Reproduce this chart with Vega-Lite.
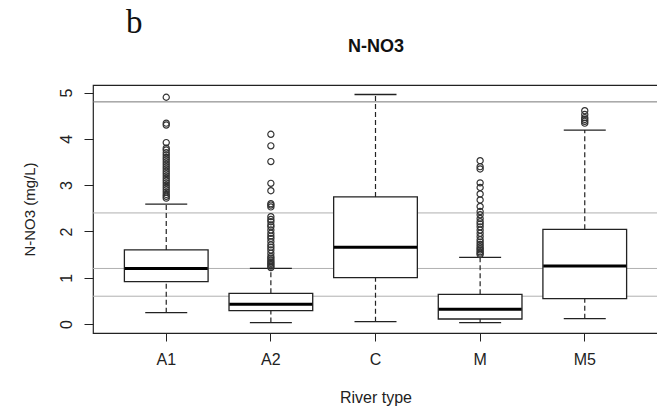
{
  "$schema": "https://vega.github.io/schema/vega-lite/v6.json",
  "autosize": "none",
  "width": 565,
  "height": 248,
  "padding": {"left": 93, "top": 85, "right": 0, "bottom": 76},
  "background": "white",
  "config": {
    "view": {"stroke": "#222", "strokeWidth": 1.2},
    "font": "Liberation Sans",
    "title": {"font": "Liberation Serif", "fontSize": 33, "fontWeight": "normal", "color": "#111"}
  },
  "title": {"text": "b", "anchor": "start", "frame": "group", "dx": 33, "offset": -3},
  "datasets": {
    "boxes": [
      {"river": "A1", "lw": 0.245, "q1": 0.915, "med": 1.2, "q3": 1.6, "uw": 2.59},
      {"river": "A2", "lw": 0.03, "q1": 0.288, "med": 0.425, "q3": 0.663, "uw": 1.2},
      {"river": "C", "lw": 0.05, "q1": 1.0, "med": 1.657, "q3": 2.745, "uw": 4.96},
      {"river": "M", "lw": 0.03, "q1": 0.108, "med": 0.317, "q3": 0.64, "uw": 1.44},
      {"river": "M5", "lw": 0.115, "q1": 0.548, "med": 1.254, "q3": 2.046, "uw": 4.19}
    ],
    "refs": [{"v": 4.8}, {"v": 2.4}, {"v": 1.2}, {"v": 0.6}],
    "outliers": [
      {"river": "A1", "v": 2.72}, {"river": "A1", "v": 2.76}, {"river": "A1", "v": 2.8}, {"river": "A1", "v": 2.85},
      {"river": "A1", "v": 2.9}, {"river": "A1", "v": 2.95}, {"river": "A1", "v": 3.0}, {"river": "A1", "v": 3.05},
      {"river": "A1", "v": 3.1}, {"river": "A1", "v": 3.15}, {"river": "A1", "v": 3.2}, {"river": "A1", "v": 3.25},
      {"river": "A1", "v": 3.3}, {"river": "A1", "v": 3.35}, {"river": "A1", "v": 3.4}, {"river": "A1", "v": 3.45},
      {"river": "A1", "v": 3.5}, {"river": "A1", "v": 3.55}, {"river": "A1", "v": 3.6}, {"river": "A1", "v": 3.65},
      {"river": "A1", "v": 3.7}, {"river": "A1", "v": 3.76}, {"river": "A1", "v": 3.8}, {"river": "A1", "v": 3.92},
      {"river": "A1", "v": 4.3}, {"river": "A1", "v": 4.34}, {"river": "A1", "v": 4.9},
      {"river": "A2", "v": 1.22}, {"river": "A2", "v": 1.25}, {"river": "A2", "v": 1.28}, {"river": "A2", "v": 1.31},
      {"river": "A2", "v": 1.34}, {"river": "A2", "v": 1.38}, {"river": "A2", "v": 1.42}, {"river": "A2", "v": 1.46},
      {"river": "A2", "v": 1.53}, {"river": "A2", "v": 1.6}, {"river": "A2", "v": 1.66}, {"river": "A2", "v": 1.71},
      {"river": "A2", "v": 1.78}, {"river": "A2", "v": 1.85}, {"river": "A2", "v": 1.9}, {"river": "A2", "v": 1.96},
      {"river": "A2", "v": 2.03}, {"river": "A2", "v": 2.1}, {"river": "A2", "v": 2.14}, {"river": "A2", "v": 2.21},
      {"river": "A2", "v": 2.26}, {"river": "A2", "v": 2.32}, {"river": "A2", "v": 2.53}, {"river": "A2", "v": 2.57},
      {"river": "A2", "v": 2.6}, {"river": "A2", "v": 2.88}, {"river": "A2", "v": 3.04}, {"river": "A2", "v": 3.51},
      {"river": "A2", "v": 3.85}, {"river": "A2", "v": 4.1},
      {"river": "M", "v": 1.5}, {"river": "M", "v": 1.53}, {"river": "M", "v": 1.56}, {"river": "M", "v": 1.6},
      {"river": "M", "v": 1.63}, {"river": "M", "v": 1.67}, {"river": "M", "v": 1.72}, {"river": "M", "v": 1.77},
      {"river": "M", "v": 1.82}, {"river": "M", "v": 1.89}, {"river": "M", "v": 1.96}, {"river": "M", "v": 2.03},
      {"river": "M", "v": 2.1}, {"river": "M", "v": 2.16}, {"river": "M", "v": 2.21}, {"river": "M", "v": 2.28},
      {"river": "M", "v": 2.36}, {"river": "M", "v": 2.43}, {"river": "M", "v": 2.54}, {"river": "M", "v": 2.68},
      {"river": "M", "v": 2.81}, {"river": "M", "v": 2.95}, {"river": "M", "v": 3.05}, {"river": "M", "v": 3.35},
      {"river": "M", "v": 3.4}, {"river": "M", "v": 3.53},
      {"river": "M5", "v": 4.34}, {"river": "M5", "v": 4.38}, {"river": "M5", "v": 4.42}, {"river": "M5", "v": 4.46},
      {"river": "M5", "v": 4.53}, {"river": "M5", "v": 4.61}
    ]
  },
  "layer": [
    {
      "encoding": {
        "x": {
          "field": "river", "type": "nominal",
          "scale": {"type": "band", "domain": ["A1", "A2", "C", "M", "M5"], "paddingInner": 0, "paddingOuter": 0.2},
          "axis": {
            "title": "River type", "titleFont": "Liberation Sans", "titleFontSize": 16, "titleFontWeight": "normal",
            "titleColor": "#222", "titlePadding": 22,
            "labelFont": "Liberation Sans", "labelFontSize": 16, "labelColor": "#222", "labelAngle": 0, "labelPadding": 10,
            "tickSize": 8, "tickColor": "#222", "domain": false, "grid": false
          }
        }
      },
      "layer": [
        {
          "data": {"name": "refs"},
          "mark": {"type": "rule", "strokeWidth": 1},
          "encoding": {
            "x": null,
            "y": {
              "field": "v", "type": "quantitative",
              "scale": {"domain": [-0.195, 5.165], "nice": false, "zero": false},
              "axis": {
                "title": "N-NO3 (mg/L)", "titleFont": "Liberation Sans", "titleFontSize": 15, "titleFontWeight": "normal",
                "titleColor": "#222", "titlePadding": 21,
                "values": [0, 1, 2, 3, 4, 5],
                "labelFont": "Liberation Sans", "labelFontSize": 16, "labelColor": "#222", "labelAngle": 270,
                "labelAlign": "center", "labelBaseline": "bottom", "labelPadding": 10,
                "tickSize": 9, "tickColor": "#222", "domain": false, "grid": false
              }
            },
            "color": {"condition": {"test": "datum.v > 4", "value": "#777"}, "value": "#b0b0b0"}
          }
        },
        {
          "data": {"name": "boxes"},
          "mark": {"type": "rule", "strokeDash": [5, 3], "stroke": "#222", "strokeWidth": 1.2},
          "encoding": {"y": {"field": "lw", "type": "quantitative", "title": "N-NO3 (mg/L)"}, "y2": {"field": "q1"}}
        },
        {
          "data": {"name": "boxes"},
          "mark": {"type": "rule", "strokeDash": [5, 3], "stroke": "#222", "strokeWidth": 1.2},
          "encoding": {"y": {"field": "q3", "type": "quantitative", "title": "N-NO3 (mg/L)"}, "y2": {"field": "uw"}}
        },
        {
          "data": {"name": "boxes"},
          "mark": {"type": "tick", "size": 42, "thickness": 1.3, "color": "#222", "opacity": 1},
          "encoding": {"y": {"field": "lw", "type": "quantitative", "title": "N-NO3 (mg/L)"}}
        },
        {
          "data": {"name": "boxes"},
          "mark": {"type": "tick", "size": 42, "thickness": 1.3, "color": "#222", "opacity": 1},
          "encoding": {"y": {"field": "uw", "type": "quantitative", "title": "N-NO3 (mg/L)"}}
        },
        {
          "data": {"name": "boxes"},
          "mark": {"type": "bar", "fill": "white", "stroke": "#222", "strokeWidth": 1.3, "width": {"band": 0.8}},
          "encoding": {"y": {"field": "q1", "type": "quantitative", "title": "N-NO3 (mg/L)"}, "y2": {"field": "q3"}}
        },
        {
          "data": {"name": "boxes"},
          "mark": {"type": "tick", "size": 83, "thickness": 3, "color": "#000", "opacity": 1},
          "encoding": {"y": {"field": "med", "type": "quantitative", "title": "N-NO3 (mg/L)"}}
        },
        {
          "data": {"name": "outliers"},
          "mark": {"type": "point", "shape": "circle", "filled": false, "size": 38, "stroke": "#333", "strokeWidth": 1.2, "opacity": 1},
          "encoding": {"y": {"field": "v", "type": "quantitative", "title": "N-NO3 (mg/L)"}}
        }
      ]
    },
    {
      "data": {"name": "boxes"},
      "mark": {"type": "point", "opacity": 0},
      "encoding": {
        "x": {
          "field": "river", "type": "nominal",
          "axis": {
            "orient": "top", "title": "N-NO3", "titleFont": "Liberation Sans", "titleFontSize": 18,
            "titleFontWeight": "bold", "titleColor": "#111", "titlePadding": 30,
            "labels": false, "ticks": false, "domain": false, "grid": false
          }
        }
      }
    }
  ],
  "resolve": {"axis": {"x": "independent"}}
}
